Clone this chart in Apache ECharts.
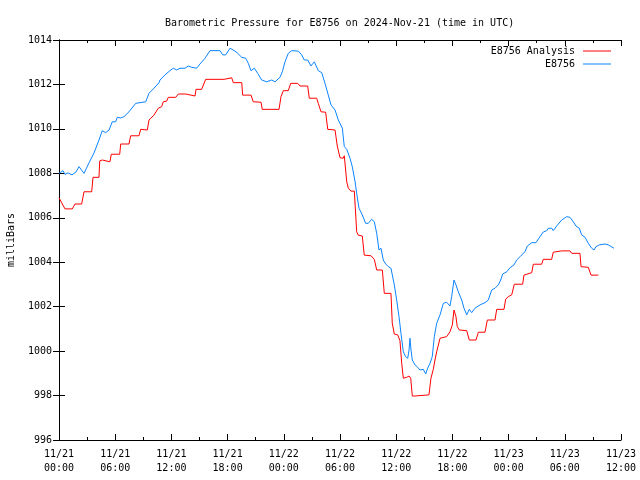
<!DOCTYPE html>
<html>
<head>
<meta charset="utf-8">
<script src="https://cdn.jsdelivr.net/npm/echarts@6/dist/echarts.min.js"></script>
<style>html,body{margin:0;padding:0;background:#fff}#c{width:640px;height:480px}</style>
</head>
<body>
<div id="c"></div>
<script>
// hours since 2024-11-21 00:00 UTC
const analysisHours = [0,0.64,1.42,1.71,2.42,2.67,3.49,3.63,4.27,4.35,4.62,5.44,5.58,6.48,6.59,7.47,7.65,8.54,8.72,9.43,9.61,10.14,10.60,10.96,11.13,11.50,11.67,12.46,12.74,13.53,13.74,14.52,14.63,15.23,15.66,17.62,18.44,18.61,19.51,19.61,20.50,20.74,21.57,21.70,23.49,23.70,23.95,24.48,24.74,25.48,25.73,26.55,26.72,27.51,27.68,27.97,28.47,28.69,29.47,29.71,30.00,30.35,30.46,30.72,30.89,31.17,31.53,31.78,31.95,32.38,32.59,33.31,33.66,33.92,34.52,34.73,35.44,35.58,35.80,36.16,36.40,36.59,36.76,37.12,37.37,37.55,37.72,38.01,38.22,39.50,39.71,39.96,40.14,40.32,40.68,40.86,41.39,41.74,41.99,42.17,42.38,42.52,42.74,43.53,43.80,44.52,44.77,45.48,45.73,46.55,46.73,47.51,47.69,47.97,48.33,48.61,49.50,49.64,50.47,50.64,51.53,51.70,52.60,52.77,53.67,54.55,54.74,55.62,55.73,56.51,56.80,57.58];
const analysisValues = [1006.90,1006.40,1006.40,1006.62,1006.62,1007.17,1007.17,1007.82,1007.82,1008.56,1008.60,1008.52,1008.86,1008.86,1009.32,1009.32,1009.69,1009.69,1009.98,1009.95,1010.40,1010.62,1010.93,1011.00,1011.22,1011.25,1011.42,1011.42,1011.57,1011.57,1011.48,1011.48,1011.78,1011.78,1012.23,1012.23,1012.30,1012.08,1012.08,1011.52,1011.52,1011.22,1011.20,1010.88,1010.88,1011.45,1011.72,1011.72,1012.05,1012.05,1011.93,1011.93,1011.38,1011.38,1011.15,1010.77,1010.75,1009.98,1009.95,1009.23,1008.70,1008.68,1008.79,1007.62,1007.33,1007.20,1007.20,1005.37,1005.22,1005.18,1004.32,1004.29,1004.13,1003.65,1003.65,1002.60,1002.60,1001.25,1000.77,1000.73,1000.47,999.45,998.78,998.82,998.88,998.78,997.98,997.98,998.07,998.03,998.78,999.18,999.60,999.97,1000.58,1000.65,1000.65,1000.87,1001.17,1001.85,1001.55,1001.10,1000.95,1000.92,1000.50,1000.50,1000.85,1000.85,1001.40,1001.40,1001.88,1001.88,1002.34,1002.45,1002.53,1003.01,1003.01,1003.42,1003.53,1003.91,1003.91,1004.13,1004.13,1004.45,1004.51,1004.51,1004.40,1004.40,1003.80,1003.77,1003.42,1003.42];

const stationHours = [0,0.21,0.43,0.64,0.96,1.39,1.81,2.14,2.67,3.20,3.74,4.27,4.62,4.99,5.34,5.69,6.05,6.22,6.59,6.94,7.47,8.19,9.26,9.61,10.14,10.68,10.78,11.32,11.85,12.20,12.57,12.92,13.45,13.80,14.17,14.70,15.05,15.59,16.12,17.19,17.48,17.80,18.26,18.79,19.08,19.51,19.93,20.21,20.50,20.85,21.21,21.64,22.17,22.71,23.06,23.59,23.84,24.13,24.48,24.84,25.55,25.91,26.19,26.55,26.90,27.26,27.68,28.05,28.40,28.75,29.04,29.47,29.82,30.25,30.46,30.72,31.07,31.31,31.60,31.78,32.03,32.38,32.74,33.02,33.38,33.66,33.92,34.16,34.38,34.62,34.88,35.16,35.44,35.80,36.05,36.30,36.51,36.76,37.01,37.23,37.37,37.47,37.58,37.72,38.01,38.30,38.54,38.89,39.15,39.36,39.61,39.85,40.07,40.32,40.68,41.03,41.39,41.74,41.92,42.17,42.38,42.63,42.99,43.24,43.53,43.80,44.06,44.41,44.95,45.13,45.48,45.83,46.20,46.55,46.90,47.16,47.37,47.80,48.15,48.58,48.86,49.29,49.75,50.00,50.47,50.64,50.92,51.35,51.70,52.07,52.24,52.60,52.77,53.13,53.67,54.20,54.55,54.91,55.19,55.55,55.80,56.16,56.51,56.87,57.12,57.33,57.68,58.29,58.64,59.25];
const stationValues = [1008.00,1008.09,1008.12,1007.95,1008.02,1007.93,1008.06,1008.30,1008.00,1008.47,1008.92,1009.50,1009.92,1009.83,1009.95,1010.32,1010.32,1010.52,1010.49,1010.55,1010.77,1011.15,1011.22,1011.60,1011.83,1012.08,1012.20,1012.43,1012.62,1012.73,1012.65,1012.73,1012.73,1012.83,1012.77,1012.73,1012.92,1013.18,1013.52,1013.52,1013.33,1013.33,1013.63,1013.50,1013.40,1013.22,1013.18,1012.95,1012.62,1012.73,1012.50,1012.20,1012.12,1012.20,1012.12,1012.32,1012.57,1013.02,1013.40,1013.52,1013.50,1013.33,1013.10,1013.10,1012.83,1013.02,1012.62,1012.53,1012.05,1011.52,1011.08,1010.85,1010.40,1010.03,1009.20,1009.08,1008.68,1008.30,1007.65,1007.10,1006.43,1006.13,1005.75,1005.75,1005.93,1005.82,1005.30,1004.55,1004.63,1004.10,1003.92,1003.80,1003.73,1002.98,1002.30,1001.55,1000.80,999.97,999.75,999.68,1000.05,1000.58,1000.05,999.60,999.38,999.27,999.15,999.18,998.97,999.23,999.45,999.75,1000.65,1001.25,1001.63,1002.15,1002.20,1002.03,1002.45,1003.20,1002.98,1002.67,1002.30,1001.93,1001.63,1001.88,1001.73,1001.93,1002.08,1002.00,1002.18,1002.30,1002.75,1002.83,1002.98,1003.20,1003.47,1003.57,1003.75,1003.88,1004.10,1004.28,1004.47,1004.73,1004.88,1004.97,1004.88,1005.15,1005.36,1005.42,1005.53,1005.53,1005.42,1005.63,1005.90,1006.05,1006.02,1005.82,1005.63,1005.53,1005.23,1005.12,1004.85,1004.63,1004.55,1004.70,1004.78,1004.82,1004.78,1004.63];

const seriesNames = ['E8756 Analysis', 'E8756'];
const titleText = 'Barometric Pressure for E8756 on 2024-Nov-21 (time in UTC)';
const yName = 'milliBars';

const FONT = 'DejaVu Sans Mono';
function zip(a, b) { return a.map((v, i) => [v, b[i]]); }
function xLabel(v) {
  const day = 21 + Math.floor(v / 24);
  const hr = Math.round(v % 24);
  return '11/' + day + '\n' + (hr < 10 ? '0' : '') + hr + ':00';
}
const axisLine = { show: true, lineStyle: { color: '#000', width: 1 } };
const legendBase = { orient: 'vertical', right: 29, padding: 0, align: 'right', icon: 'rect', itemWidth: 28, itemHeight: 1,
  textStyle: { fontFamily: FONT, fontSize: 10, color: '#000', padding: [0, 3, 0, 0] } };
const chart = echarts.init(document.getElementById('c'), null, { renderer: 'canvas' });
chart.setOption({
  animation: false,
  backgroundColor: '#fff',
  title: { text: titleText, left: 160, top: 13, textStyle: { fontFamily: FONT, fontSize: 10, fontWeight: 'normal', color: '#000' } },
  legend: [
    Object.assign({}, legendBase, { data: [seriesNames[0]], top: 46 }),
    Object.assign({}, legendBase, { data: [seriesNames[1]], top: 59 })
  ],
  grid: { left: 59, right: 19, top: 40, bottom: 40, containLabel: false, outerBoundsMode: 'none' },
  xAxis: [
    { type: 'value', min: 0, max: 60, interval: 6, position: 'bottom', axisLine,
      axisTick: { show: true, inside: true, length: 6, lineStyle: { color: '#000' } },
      minorTick: { show: true, splitNumber: 2, length: 3, lineStyle: { color: '#000' } },
      splitLine: { show: false },
      axisLabel: { formatter: xLabel, fontFamily: FONT, fontSize: 10, color: '#000', margin: 7, lineHeight: 14, showMinLabel: true, showMaxLabel: true, hideOverlap: false } },
    { type: 'value', min: 0, max: 60, interval: 6, position: 'top', axisLine,
      axisTick: { show: true, inside: true, length: 6, lineStyle: { color: '#000' } },
      minorTick: { show: true, splitNumber: 2, length: 3, lineStyle: { color: '#000' } },
      splitLine: { show: false }, axisLabel: { show: false } }
  ],
  yAxis: [
    { type: 'value', min: 996, max: 1014, interval: 2, position: 'left', axisLine,
      axisTick: { show: true, inside: true, length: 6, lineStyle: { color: '#000' } },
      splitLine: { show: false },
      name: yName, nameLocation: 'middle', nameGap: 43, nameRotate: 90,
      nameTextStyle: { fontFamily: FONT, fontSize: 10, color: '#000' },
      axisLabel: { formatter: v => String(v), fontFamily: FONT, fontSize: 10, color: '#000', margin: 7 } },
    { type: 'value', min: 996, max: 1014, interval: 2, position: 'right', axisLine,
      axisTick: { show: true, inside: true, length: 6, lineStyle: { color: '#000' } },
      splitLine: { show: false }, axisLabel: { show: false } }
  ],
  series: [
    { name: seriesNames[0], type: 'line', xAxisIndex: 0, yAxisIndex: 0, symbol: 'none', data: zip(analysisHours, analysisValues),
      lineStyle: { color: '#ff0000', width: 1 }, itemStyle: { color: '#ff0000' } },
    { name: seriesNames[1], type: 'line', xAxisIndex: 0, yAxisIndex: 0, symbol: 'none', data: zip(stationHours, stationValues),
      lineStyle: { color: '#0a84ff', width: 1 }, itemStyle: { color: '#0a84ff' } }
  ]
});
</script>
</body>
</html>
